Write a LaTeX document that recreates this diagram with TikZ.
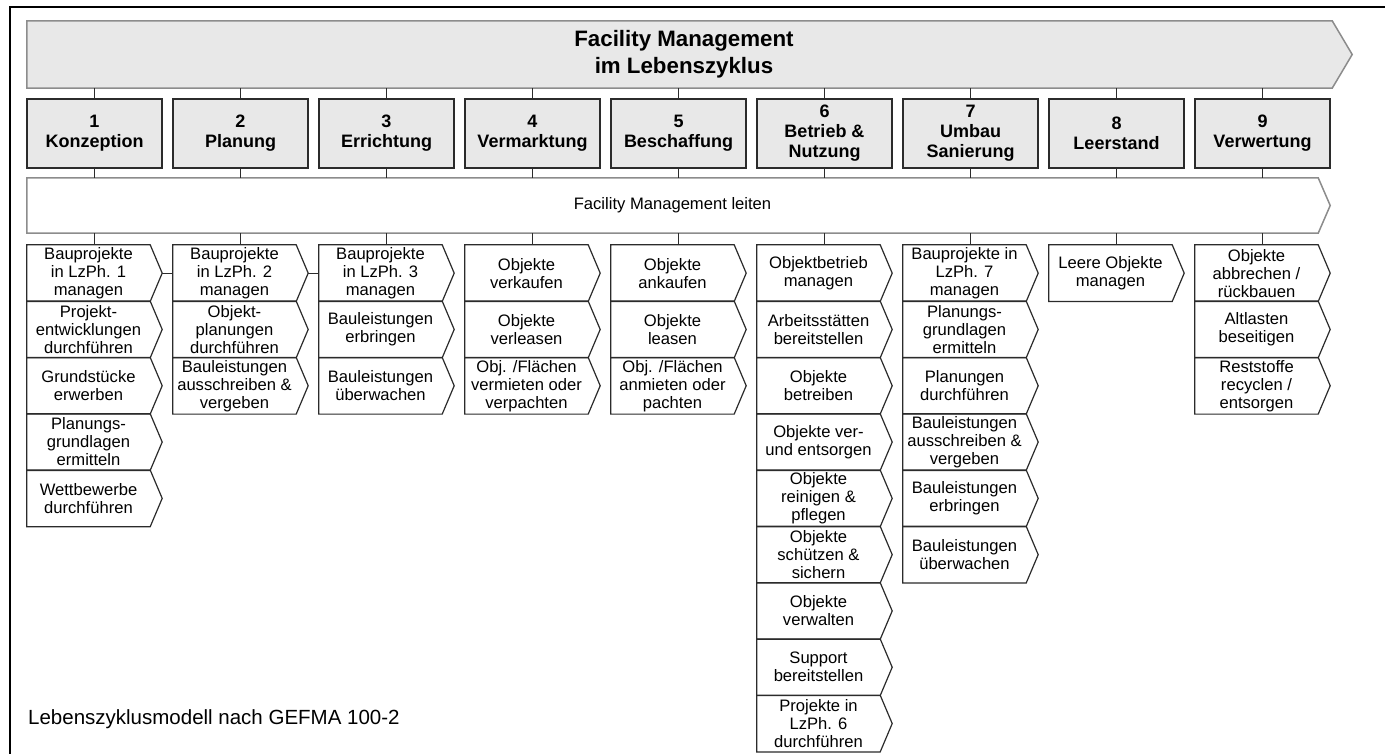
\documentclass[tikz,border=0pt]{standalone}
\usepackage{fontspec}
\setmainfont{Liberation Sans}
\usetikzlibrary{backgrounds}
\definecolor{barfill}{HTML}{E8E8E8}
\definecolor{barline}{HTML}{8C8C8C}
\definecolor{boxline}{HTML}{2B2B2B}
\newcommand\subfont{\fontsize{16.6}{18}\selectfont}
\newcommand\phasefont{\fontsize{18}{20}\selectfont\bfseries}
\newcommand\subbox[4]{%
  \node[subnode] (#1) at ({#2+61.5},{273.15+(#3-1)*56.3}) {#4};
  \begin{scope}[on background layer]
    \draw[subline] (#1.north west) -- (#1.north east) -- ([xshift=12pt]#1.east) -- (#1.south east) -- (#1.south west) -- cycle;
  \end{scope}}
\tikzset{
  phase/.style={draw=boxline, fill=barfill, line width=1.3pt, minimum width=135pt, minimum height=69pt, inner sep=0pt, align=center, font=\phasefont},
  subnode/.style={minimum width=123pt, minimum height=56.3pt, inner sep=0pt, align=center, font=\subfont},
  subline/.style={draw=boxline, line width=1.2pt, line join=miter},
  conn/.style={draw=boxline, line width=1.2pt},
  barstroke/.style={draw=barline, line width=1.5pt}
}
\begin{document}
\begin{tikzpicture}[x=1pt,y=-1pt]
\useasboundingbox (0,0) rectangle (1385,754);
\begin{scope}[on background layer]
  \fill[white] (0,0) rectangle (1385,754);
\end{scope}
% outer frame (only top and left edges visible)
\draw[line width=2pt, black] (10,760) -- (10,7) -- (1390,7);

% top bar
\node[minimum width=1305pt, minimum height=67pt, inner sep=0pt, align=center,
      font=\fontsize{22.3}{27}\selectfont\bfseries] (top) at (679.5,54.5)
      {\hspace*{9pt}Facility Management\\\hspace*{9pt}im Lebenszyklus};
\begin{scope}[on background layer]
  \draw[barstroke, fill=barfill] (top.north west) -- (top.north east) -- ([xshift=20pt]top.east) -- (top.south east) -- (top.south west) -- cycle;
\end{scope}

% lead bar
\node[minimum width=1291pt, minimum height=55pt, inner sep=0pt, font=\subfont] (lead) at (672.5,205.5) {Facility Management leiten};
\begin{scope}[on background layer]
  \draw[barstroke, fill=white] (lead.north west) -- (lead.north east) -- ([xshift=12pt]lead.east) -- (lead.south east) -- (lead.south west) -- cycle;
\end{scope}

% phases
\node[phase] (p1) at (94.5,133.5) {1\\Konzeption};
\node[phase] (p2) at (240.5,133.5) {2\\Planung};
\node[phase] (p3) at (386.5,133.5) {3\\Errichtung};
\node[phase] (p4) at (532.5,133.5) {4\\Vermarktung};
\node[phase] (p5) at (678.5,133.5) {5\\Beschaffung};
\node[phase] (p6) at (824.5,133.5) {6\\Betrieb \&\\Nutzung};
\node[phase] (p7) at (970.5,133.5) {7\\Umbau\\Sanierung};
\node[phase] (p8) at (1116.5,133.5) {8\\Leerstand};
\node[phase] (p9) at (1262.5,133.5) {9\\Verwertung};

% sub boxes
\subbox{a1}{27}{1}{Bauprojekte\\in LzPh. 1\\managen}
\subbox{a2}{27}{2}{Projekt-\\entwicklungen\\durchführen}
\subbox{a3}{27}{3}{Grundstücke\\erwerben}
\subbox{a4}{27}{4}{Planungs-\\grundlagen\\ermitteln}
\subbox{a5}{27}{5}{Wettbewerbe\\durchführen}

\subbox{b1}{173}{1}{Bauprojekte\\in LzPh. 2\\managen}
\subbox{b2}{173}{2}{Objekt-\\planungen\\durchführen}
\subbox{b3}{173}{3}{Bauleistungen\\ausschreiben \&\\vergeben}

\subbox{c1}{319}{1}{Bauprojekte\\in LzPh. 3\\managen}
\subbox{c2}{319}{2}{Bauleistungen\\erbringen}
\subbox{c3}{319}{3}{Bauleistungen\\überwachen}

\subbox{d1}{465}{1}{Objekte\\verkaufen}
\subbox{d2}{465}{2}{Objekte\\verleasen}
\subbox{d3}{465}{3}{Obj. /Flächen\\vermieten oder\\verpachten}

\subbox{e1}{611}{1}{Objekte\\ankaufen}
\subbox{e2}{611}{2}{Objekte\\leasen}
\subbox{e3}{611}{3}{Obj. /Flächen\\anmieten oder\\pachten}

\subbox{f1}{757}{1}{Objektbetrieb\\managen}
\subbox{f2}{757}{2}{Arbeitsstätten\\bereitstellen}
\subbox{f3}{757}{3}{Objekte\\betreiben}
\subbox{f4}{757}{4}{Objekte ver-\\und entsorgen}
\subbox{f5}{757}{5}{Objekte\\reinigen \&\\pflegen}
\subbox{f6}{757}{6}{Objekte\\schützen \&\\sichern}
\subbox{f7}{757}{7}{Objekte\\verwalten}
\subbox{f8}{757}{8}{Support\\bereitstellen}
\subbox{f9}{757}{9}{Projekte in\\LzPh. 6\\durchführen}

\subbox{g1}{903}{1}{Bauprojekte in\\LzPh. 7\\managen}
\subbox{g2}{903}{2}{Planungs-\\grundlagen\\ermitteln}
\subbox{g3}{903}{3}{Planungen\\durchführen}
\subbox{g4}{903}{4}{Bauleistungen\\ausschreiben \&\\vergeben}
\subbox{g5}{903}{5}{Bauleistungen\\erbringen}
\subbox{g6}{903}{6}{Bauleistungen\\überwachen}

\subbox{h1}{1049}{1}{Leere Objekte\\managen}

\subbox{i1}{1195}{1}{Objekte\\abbrechen /\\rückbauen}
\subbox{i2}{1195}{2}{Altlasten\\beseitigen}
\subbox{i3}{1195}{3}{Reststoffe\\recyclen /\\entsorgen}

% connectors
\foreach \p/\s in {p1/a1,p2/b1,p3/c1,p4/d1,p5/e1,p6/f1,p7/g1,p8/h1,p9/i1}{
  \draw[conn] (\p.north |- top.south) -- (\p.north);
  \draw[conn] (\p.south) -- (\p.south |- lead.north);
  \draw[conn] (\p.south |- lead.south) -- (\p.south |- \s.north);
}
\draw[conn] ([xshift=12pt]a1.east) -- (b1.west);
\draw[conn] ([xshift=12pt]b1.east) -- (c1.west);

% caption
\node[anchor=base west, inner sep=0pt, font=\fontsize{20.5}{24}\selectfont] (cap) at (28,724) {Lebenszyklusmodell nach GEFMA 100-2};
\end{tikzpicture}
\end{document}
